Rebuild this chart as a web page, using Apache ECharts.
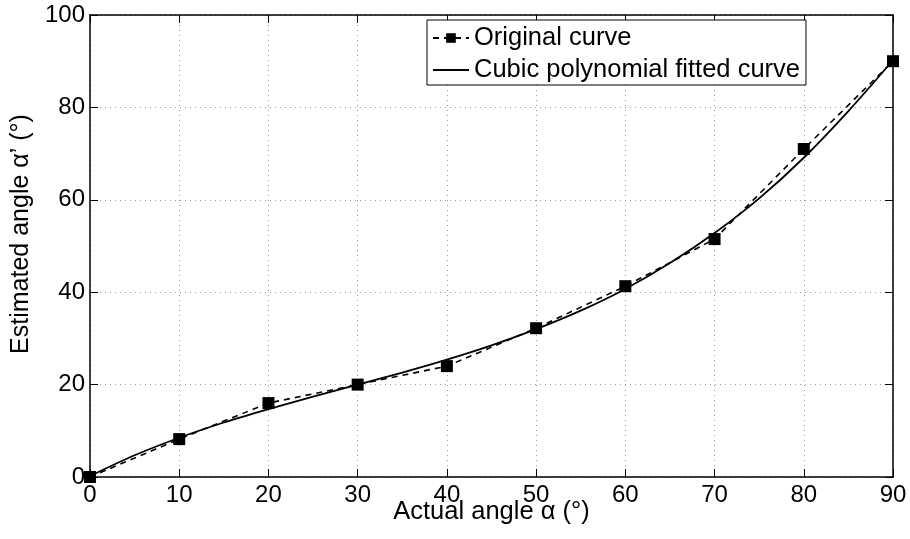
<!DOCTYPE html>
<html><head><meta charset="utf-8">
<script src="https://cdn.jsdelivr.net/npm/echarts@6/dist/echarts.min.js"></script>
<style>html,body{margin:0;padding:0;background:#fff}#c{width:910px;height:539px}</style>
</head><body><div id="c"></div>
<script>
const xTicks = [0, 10, 20, 30, 40, 50, 60, 70, 80, 90];
const originalX = [0, 10, 20, 30, 40, 50, 60, 70, 80, 90];
const originalY = [0, 8.2, 16, 20, 24, 32.2, 41.3, 51.5, 71, 90];
const fittedX = [0, 5, 10, 15, 20, 25, 30, 35, 40, 45, 50, 55, 60, 65, 70, 75, 80, 85, 90];
const fittedY = [0.2, 4.7, 8.5, 11.8, 14.7, 17.4, 20.0, 22.6, 25.4, 28.5, 32.0, 36.0, 40.7, 46.3, 52.8, 60.3, 69.1, 79.2, 90.2];

const font = 'Liberation Sans, Arial, sans-serif';
const chart = echarts.init(document.getElementById('c'), null, {renderer: 'canvas'});
function axLine() { return {show: true, onZero: false, lineStyle: {color: '#000', width: 1.5}}; }
function axTick() { return {show: true, inside: true, length: 8, lineStyle: {color: '#000', width: 1}}; }
chart.setOption({
  animation: false,
  backgroundColor: '#fff',
  grid: {left: 90, right: 17, top: 15, bottom: 62, show: false, containLabel: false, outerBoundsMode: 'none'},
  legend: {
    left: 427, top: 20, orient: 'vertical', itemGap: 6,
    borderColor: '#000', borderWidth: 1, backgroundColor: '#fff', borderRadius: 0,
    padding: [5, 6, 2, 5], itemWidth: 36, itemHeight: 12,
    textStyle: {fontFamily: font, fontSize: 25.5, lineHeight: 26, color: '#000'},
    data: ['Original curve', {name: 'Cubic polynomial fitted curve', itemStyle: {opacity: 0}}]
  },
  xAxis: [{
    type: 'value', min: 0, max: 90, interval: 10, position: 'bottom',
    name: 'Actual angle α (°)', nameLocation: 'middle', nameGap: 22, nameMoveOverlap: false,
    nameTextStyle: {fontFamily: font, fontSize: 25.5, color: '#000'},
    axisLabel: {fontFamily: font, fontSize: 24, color: '#000', margin: 6},
    splitLine: {show: true, lineStyle: {color: '#999', type: [1, 4], width: 1}},
    axisLine: axLine(), axisTick: axTick()
  }, {
    type: 'value', min: 0, max: 90, interval: 10, position: 'top',
    axisLabel: {show: false}, splitLine: {show: false},
    axisLine: axLine(), axisTick: axTick()
  }],
  yAxis: [{
    type: 'value', min: 0, max: 100, interval: 20, position: 'left',
    name: 'Estimated angle α’ (°)', nameLocation: 'middle', nameGap: 56, nameMoveOverlap: false,
    nameTextStyle: {fontFamily: font, fontSize: 25, color: '#000', padding: [0, 0, 0, 24]},
    axisLabel: {fontFamily: font, fontSize: 24, color: '#000', margin: 5},
    splitLine: {show: true, lineStyle: {color: '#999', type: [1, 4], width: 1}},
    axisLine: axLine(), axisTick: axTick()
  }, {
    type: 'value', min: 0, max: 100, interval: 20, position: 'right',
    axisLabel: {show: false}, splitLine: {show: false},
    axisLine: axLine(), axisTick: axTick()
  }],
  series: [{
    name: 'Original curve', type: 'line',
    data: originalX.map((x, i) => [x, originalY[i]]),
    symbol: 'rect', symbolSize: 12, showSymbol: true,
    itemStyle: {color: '#000'},
    lineStyle: {color: '#000', width: 1.6, type: [6, 5]},
    z: 3
  }, {
    name: 'Cubic polynomial fitted curve', type: 'line',
    data: fittedX.map((x, i) => [x, fittedY[i]]),
    smooth: 0.3, symbol: 'none', showSymbol: false,
    itemStyle: {color: '#000'},
    lineStyle: {color: '#000', width: 1.8, type: 'solid'},
    z: 2
  }]
});
</script></body></html>
